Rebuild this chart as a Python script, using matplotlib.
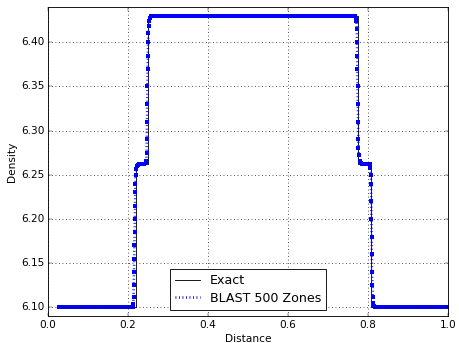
import matplotlib
matplotlib.use("Agg")
import matplotlib.pyplot as plt
import numpy as np

# Exact solution (piecewise constant density)
exact_x = [0.027, 0.220, 0.220, 0.249, 0.249, 0.775, 0.775, 0.807, 0.807, 1.0]
exact_rho = [6.10, 6.10, 6.262, 6.262, 6.43, 6.43, 6.262, 6.262, 6.10, 6.10]

# BLAST 500 zones: plateau levels and values read across the transitions
rho_low, rho_mid, rho_high = 6.10, 6.262, 6.43
dx = 0.002

rise1_x = [0.212, 0.213, 0.214, 0.2145, 0.215, 0.2155, 0.216, 0.2165, 0.217,
           0.2175, 0.218, 0.2185, 0.219, 0.220, 0.222, 0.225]
rise1_rho = [6.100, 6.104, 6.112, 6.125, 6.140, 6.155, 6.170, 6.185, 6.200,
             6.215, 6.230, 6.240, 6.250, 6.256, 6.260, 6.261]
rise2_x = [0.244, 0.246, 0.2465, 0.247, 0.2475, 0.248, 0.2485, 0.249, 0.2495,
           0.250, 0.251, 0.252, 0.253, 0.255, 0.258]
rise2_rho = [6.263, 6.266, 6.275, 6.290, 6.310, 6.330, 6.350, 6.370, 6.385,
             6.400, 6.410, 6.418, 6.424, 6.428, 6.430]
drop1_x = [0.768, 0.770, 0.771, 0.772, 0.7725, 0.773, 0.7735, 0.774, 0.7745,
           0.775, 0.7755, 0.776, 0.777, 0.779, 0.782, 0.786]
drop1_rho = [6.430, 6.428, 6.424, 6.415, 6.400, 6.385, 6.370, 6.350, 6.330,
             6.310, 6.290, 6.280, 6.272, 6.266, 6.263, 6.262]
drop2_x = [0.806, 0.807, 0.8075, 0.808, 0.8085, 0.809, 0.8095, 0.810, 0.811,
           0.812, 0.813, 0.815, 0.818]
drop2_rho = [6.258, 6.250, 6.240, 6.220, 6.200, 6.180, 6.160, 6.140, 6.125,
             6.112, 6.105, 6.101, 6.100]

plat1_x = np.arange(0.027, 0.211, dx)
plat2_x = np.arange(0.227, 0.243, dx)
plat3_x = np.arange(0.260, 0.767, dx)
plat4_x = np.arange(0.788, 0.805, dx)
plat5_x = np.arange(0.820, 1.0, dx)

blast_x = np.concatenate([plat1_x, rise1_x, plat2_x, rise2_x, plat3_x,
                          drop1_x, plat4_x, drop2_x, plat5_x])
blast_rho = np.concatenate([np.full(len(plat1_x), rho_low), rise1_rho,
                            np.full(len(plat2_x), rho_mid), rise2_rho,
                            np.full(len(plat3_x), rho_high), drop1_rho,
                            np.full(len(plat4_x), rho_mid), drop2_rho,
                            np.full(len(plat5_x), rho_low)])

plt.style.use("classic")
dpi = 63
fig = plt.figure(figsize=(459 / dpi, 343 / dpi), dpi=dpi, facecolor="white")
ax = fig.add_axes([0.1046, 0.0787, 0.8715, 0.9009])

ax.plot(exact_x, exact_rho, color="black", lw=1.0, label="Exact")
ax.plot(blast_x, blast_rho, color="blue", ls=":", lw=3.0, marker="s",
        ms=4.2, mew=0, mfc="blue", label="BLAST 500 Zones")

ax.set_xlim(0.0, 1.0)
ax.set_ylim(6.09, 6.44)
ax.set_xticks(np.arange(0.0, 1.01, 0.2))
ax.set_yticks(np.arange(6.10, 6.401, 0.05))
ax.grid(True, color="black", ls=":", lw=0.8)
ax.set_xlabel("Distance", fontsize=12)
ax.set_ylabel("Density", fontsize=12)
ax.tick_params(labelsize=12)
leg = ax.legend(loc="lower center", fontsize=14.4, numpoints=1,
                handlelength=2, labelspacing=0.35)
leg.legend_handles[1].set_marker("")

fig.savefig("out.png", dpi=dpi, facecolor="white")
